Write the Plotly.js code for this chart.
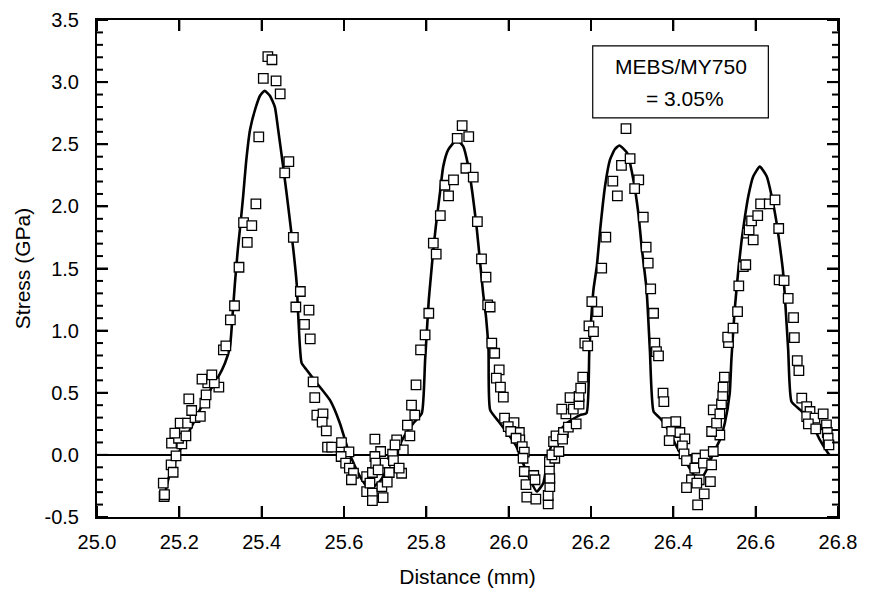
<!DOCTYPE html>
<html><head><meta charset="utf-8">
<script src="https://cdn.plot.ly/plotly-3.0.1.min.js"></script>
<style>html,body{margin:0;padding:0;background:#fff}#chart{width:872px;height:594px}</style>
</head><body><div id="chart"></div>
<script>
// Fitted stress profile (solid line)
const fitX = [25.166,25.173,25.185,25.202,25.218,25.234,25.248,25.262,25.28,25.295,25.311,25.323,25.329,25.335,25.342,25.347,25.355,25.362,25.372,25.386,25.396,25.407,25.42,25.432,25.44,25.451,25.46,25.467,25.477,25.485,25.489,25.497,25.509,25.534,25.566,25.59,25.61,25.625,25.639,25.655,25.67,25.69,25.71,25.73,25.75,25.77,25.789,25.797,25.806,25.811,25.817,25.823,25.833,25.841,25.853,25.874,25.89,25.902,25.912,25.922,25.93,25.938,25.945,25.951,25.955,25.979,26.003,26.019,26.035,26.052,26.068,26.084,26.096,26.112,26.141,26.173,26.189,26.196,26.206,26.214,26.223,26.234,26.246,26.258,26.269,26.288,26.303,26.315,26.323,26.335,26.343,26.352,26.368,26.388,26.408,26.432,26.452,26.461,26.481,26.497,26.513,26.525,26.537,26.541,26.549,26.558,26.566,26.574,26.582,26.594,26.61,26.627,26.639,26.651,26.659,26.666,26.671,26.679,26.687,26.708,26.732,26.756,26.776,26.779];
const fitY = [-0.30,-0.20,-0.09,0.04,0.15,0.255,0.35,0.44,0.55,0.63,0.74,0.87,1.11,1.38,1.65,1.81,2.08,2.35,2.62,2.80,2.89,2.93,2.89,2.80,2.62,2.35,2.12,1.93,1.65,1.38,1.11,0.74,0.685,0.577,0.44,0.255,0.04,-0.08,-0.175,-0.25,-0.26,-0.20,-0.08,0.05,0.17,0.26,0.335,0.76,1.25,1.435,1.65,1.837,2.106,2.32,2.455,2.535,2.48,2.32,2.106,1.837,1.57,1.30,1.11,0.845,0.362,0.255,0.147,0.067,-0.067,-0.20,-0.295,-0.228,-0.013,0.147,0.255,0.32,0.335,0.845,1.33,1.515,1.837,2.16,2.374,2.46,2.49,2.428,2.213,1.945,1.676,1.33,0.845,0.349,0.295,0.20,0.067,-0.067,-0.175,-0.228,-0.12,0.013,0.12,0.255,0.497,0.765,1.167,1.49,1.73,1.918,2.08,2.24,2.32,2.24,2.08,1.865,1.676,1.49,1.274,0.845,0.429,0.362,0.282,0.12,0.013,0.0];

// Measured stress (open squares)
const measX = [25.161,25.163,25.164,25.18,25.185,25.192,25.181,25.206,25.198,25.216,25.189,25.202,25.22,25.238,25.251,25.23,25.262,25.223,25.265,25.296,25.269,25.285,25.255,25.279,25.307,25.313,25.324,25.334,25.345,25.365,25.356,25.376,25.386,25.393,25.404,25.415,25.425,25.435,25.445,25.456,25.466,25.477,25.494,25.483,25.515,25.504,25.518,25.525,25.529,25.534,25.549,25.547,25.557,25.56,25.57,25.594,25.612,25.593,25.604,25.613,25.623,25.618,25.655,25.655,25.663,25.669,25.669,25.669,25.675,25.689,25.675,25.677,25.7,25.718,25.72,25.683,25.71,25.74,25.734,25.692,25.705,25.695,25.744,25.728,25.724,25.76,25.754,25.772,25.764,25.775,25.786,25.797,25.806,25.824,25.817,25.834,25.854,25.845,25.866,25.875,25.887,25.903,25.896,25.914,25.924,25.934,25.945,25.949,25.955,25.959,25.966,25.977,25.97,25.98,25.987,25.99,26.013,25.999,26.026,26.005,26.027,26.018,26.033,26.038,26.035,26.038,26.061,26.042,26.064,26.044,26.066,26.096,26.096,26.1,26.1,26.099,26.099,26.112,26.105,26.122,26.109,26.115,26.133,26.131,26.145,26.164,26.139,26.129,26.157,26.149,26.171,26.171,26.175,26.18,26.185,26.192,26.195,26.206,26.216,26.202,26.226,26.236,26.264,26.253,26.274,26.295,26.285,26.316,26.306,26.327,26.334,26.339,26.345,26.352,26.355,26.359,26.364,26.375,26.377,26.384,26.406,26.396,26.416,26.39,26.428,26.422,26.426,26.432,26.457,26.477,26.497,26.452,26.473,26.493,26.444,26.463,26.49,26.432,26.457,26.475,26.459,26.513,26.493,26.505,26.497,26.513,26.517,26.52,26.521,26.524,26.534,26.532,26.545,26.556,26.559,26.57,26.576,26.58,26.584,26.594,26.59,26.605,26.612,26.633,26.647,26.656,26.657,26.669,26.679,26.692,26.694,26.701,26.705,26.712,26.724,26.732,26.724,26.744,26.764,26.728,26.746,26.772,26.774,26.776,26.778];
const measY = [-0.228,-0.335,-0.32,-0.08,-0.14,-0.008,0.094,0.089,0.134,0.153,0.175,0.255,0.255,0.30,0.31,0.357,0.416,0.45,0.483,0.545,0.58,0.58,0.61,0.644,0.845,0.877,1.087,1.20,1.51,1.71,1.87,1.845,2.02,2.56,3.03,3.206,3.18,3.01,2.905,2.27,2.36,1.75,1.315,1.19,1.165,1.05,0.934,0.588,0.46,0.32,0.33,0.263,0.193,0.062,0.062,0.099,0.024,-0.013,-0.067,-0.107,-0.148,-0.2,-0.175,-0.295,-0.228,-0.142,-0.308,-0.368,0.126,0.027,-0.013,-0.067,-0.067,0.005,-0.046,-0.12,-0.142,-0.148,-0.107,-0.255,-0.22,-0.344,0.04,0.12,0.08,0.153,0.24,0.32,0.40,0.563,0.845,0.966,1.14,1.615,1.704,1.926,2.085,2.17,2.213,2.548,2.65,2.562,2.307,2.235,1.878,1.577,1.43,1.207,1.19,0.9,0.818,0.684,0.617,0.545,0.464,0.295,0.26,0.228,0.18,0.188,0.12,0.134,0.067,0.022,-0.027,-0.134,-0.166,-0.24,-0.2,-0.34,-0.356,-0.394,-0.327,-0.255,-0.188,-0.115,-0.054,-0.027,0.0,0.027,0.107,0.153,0.18,0.126,0.223,0.25,0.33,0.368,0.368,0.461,0.408,0.47,0.537,0.625,0.9,0.877,1.038,0.992,1.153,1.234,1.503,1.752,2.085,2.203,2.33,2.385,2.626,2.213,2.143,1.913,1.672,1.543,1.336,1.14,0.9,0.831,0.797,0.497,0.429,0.26,0.268,0.188,0.18,0.115,0.129,0.072,0.008,-0.046,-0.027,0.0,0.027,-0.107,-0.067,-0.08,-0.2,-0.2,-0.215,-0.263,-0.228,-0.314,-0.402,0.16,0.188,0.255,0.362,0.33,0.41,0.477,0.545,0.625,0.904,0.947,1.02,1.153,1.36,1.515,1.53,1.784,1.811,1.73,1.883,1.926,2.02,2.02,2.052,1.822,1.408,1.403,1.26,1.105,0.944,0.759,0.678,0.456,0.389,0.349,0.308,0.295,0.33,0.25,0.209,0.241,0.18,0.134,0.08];

const xRange = [25.0, 26.8];
const yRange = [-0.5, 3.5];
const xTickVals = [25.0,25.2,25.4,25.6,25.8,26.0,26.2,26.4,26.6,26.8];
const xTickText = ['25.0','25.2','25.4','25.6','25.8','26.0','26.2','26.4','26.6','26.8'];
const yTickVals = [-0.5,0.0,0.5,1.0,1.5,2.0,2.5,3.0,3.5];
const yTickText = ['-0.5','0.0','0.5','1.0','1.5','2.0','2.5','3.0','3.5'];
const yMinorVals = [-0.4,-0.3,-0.2,-0.1,0.1,0.2,0.3,0.4,0.6,0.7,0.8,0.9,1.1,1.2,1.3,1.4,1.6,1.7,1.8,1.9,2.1,2.2,2.3,2.4,2.6,2.7,2.8,2.9,3.1,3.2,3.3,3.4];
const xTitle = 'Distance (mm)';
const yTitle = 'Stress (GPa)';
const boxLines = ['MEBS/MY750', '= 3.05%'];

const FONT = 'Liberation Sans, Arial, sans-serif';
const MAJOR = 11, MINOR = 6;
const tickLine = {color: 'black', width: 2};

const traces = [
  {x: fitX, y: fitY, type: 'scatter', mode: 'lines',
   line: {color: 'black', width: 2.6, shape: 'spline', smoothing: 0.5},
   hoverinfo: 'skip', showlegend: false},
  {x: measX, y: measY, type: 'scatter', mode: 'markers',
   marker: {symbol: 'square', size: 9.5, color: 'white', line: {color: 'black', width: 1.3}},
   showlegend: false}
];

// Inside tick marks at the axis values, positioned through the axes' own scales
const shapes = [];
xTickVals.forEach(v => {
  shapes.push({type: 'line', xref: 'x', yref: 'paper', ysizemode: 'pixel', yanchor: 0, x0: v, x1: v, y0: 0, y1: MAJOR, line: tickLine, layer: 'above'});
  shapes.push({type: 'line', xref: 'x', yref: 'paper', ysizemode: 'pixel', yanchor: 1, x0: v, x1: v, y0: 0, y1: -MAJOR, line: tickLine, layer: 'above'});
});
function yTicks(vals, len) {
  vals.forEach(v => {
    shapes.push({type: 'line', yref: 'y', xref: 'paper', xsizemode: 'pixel', xanchor: 0, y0: v, y1: v, x0: 0, x1: len, line: tickLine, layer: 'above'});
    shapes.push({type: 'line', yref: 'y', xref: 'paper', xsizemode: 'pixel', xanchor: 1, y0: v, y1: v, x0: 0, x1: -len, line: tickLine, layer: 'above'});
  });
}
yTicks(yTickVals, MAJOR);
yTicks(yMinorVals, MINOR);
shapes.push({type: 'rect', xref: 'paper', yref: 'paper', x0: 0.669, x1: 0.906, y0: 0.803, y1: 0.948,
  line: {color: 'black', width: 1.2}, fillcolor: 'white', layer: 'above'});

const layout = {
  width: 872, height: 594,
  margin: {l: 97, r: 34, t: 20, b: 77},
  paper_bgcolor: 'white', plot_bgcolor: 'white',
  font: {family: FONT, color: 'black'},
  showlegend: false,
  xaxis: {
    range: xRange, tickmode: 'array', tickvals: xTickVals, ticktext: xTickText,
    showline: true, linecolor: 'black', linewidth: 2, mirror: 'ticks',
    ticks: 'inside', ticklen: MAJOR, tickwidth: 2, tickcolor: 'black',
    showgrid: false, zeroline: false,
    ticklabelstandoff: 6,
    tickfont: {family: FONT, size: 20, color: 'black'},
    title: {text: xTitle, font: {family: FONT, size: 21, color: 'black'}, standoff: 17}
  },
  yaxis: {
    range: yRange, tickmode: 'array', tickvals: yTickVals, ticktext: yTickText,
    showline: true, linecolor: 'black', linewidth: 2, mirror: 'ticks',
    ticks: 'inside', ticklen: MAJOR, tickwidth: 2, tickcolor: 'black',
    showgrid: false,
    zeroline: true, zerolinecolor: 'black', zerolinewidth: 2,
    ticklabelstandoff: 12,
    tickfont: {family: FONT, size: 20, color: 'black'},
    title: {text: yTitle, font: {family: FONT, size: 21, color: 'black'}, standoff: 8}
  },
  shapes: shapes,
  annotations: [
    {xref: 'paper', yref: 'paper', x: 0.7875, y: 0.906, text: boxLines[0], showarrow: false,
     xanchor: 'center', yanchor: 'middle', font: {family: FONT, size: 21, color: 'black'}},
    {xref: 'paper', yref: 'paper', x: 0.7935, y: 0.842, text: boxLines[1], showarrow: false,
     xanchor: 'center', yanchor: 'middle', font: {family: FONT, size: 21, color: 'black'}}
  ]
};

Plotly.newPlot('chart', traces, layout, {displayModeBar: false});
</script>
</body></html>
